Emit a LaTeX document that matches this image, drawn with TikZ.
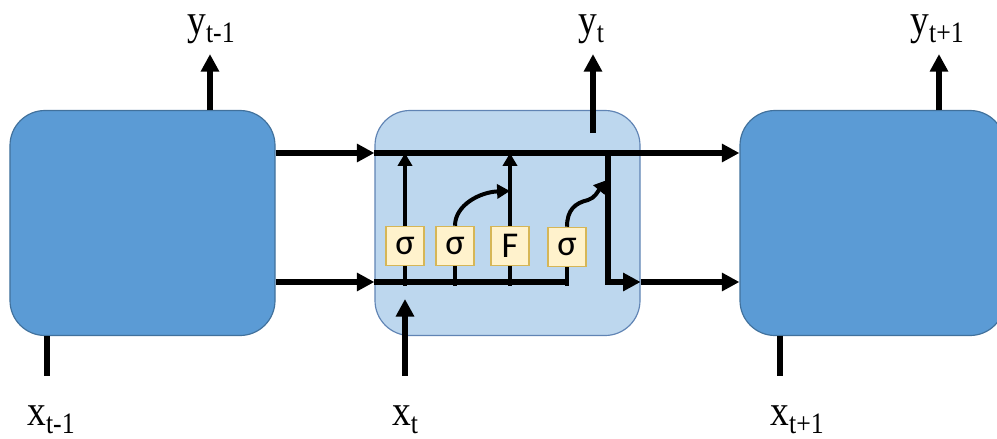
\documentclass[tikz,border=0pt]{standalone}
\usepackage{fontspec}
\setmainfont{Liberation Serif}
\newfontfamily\gatefont{Carlito}
\usetikzlibrary{arrows.meta, positioning}
\definecolor{cellblue}{RGB}{91,155,213}
\definecolor{cellborder}{RGB}{65,113,156}
\definecolor{midblue}{RGB}{189,215,238}
\definecolor{midborder}{RGB}{96,132,180}
\definecolor{gatefill}{RGB}{255,242,204}
\definecolor{gateborder}{RGB}{214,182,86}
\newcommand{\seqlbl}[2]{\scalebox{1}[1.15]{#1\raisebox{-6pt}{\fontsize{22}{24}\selectfont #2}}}

\begin{document}
\begin{tikzpicture}[x=0.3mm,y=-0.3mm,
  cell/.style={draw=cellborder,fill=cellblue,line width=1pt,rounded corners=10.5mm,
    minimum width=79.5mm,minimum height=67.5mm,inner sep=0},
  gate/.style={draw=gateborder,fill=gatefill,line width=1.3pt,minimum width=11.4mm,
    minimum height=11.7mm,inner sep=0,font=\gatefont\fontsize{31}{33}\selectfont},
  lbl/.style={inner sep=0,anchor=base,font=\fontsize{32}{36}\selectfont},
  bigarrow/.style={-{Triangle[length=15pt,width=15pt]},line width=4.3pt},
  smallarrow/.style={-{Triangle[length=11pt,width=12pt]},line width=3.4pt}
]
\useasboundingbox (0,0) rectangle (997,439);

% the three cells
\node[cell] (prev) at (142.5,223) {};
\node[cell,fill=midblue,draw=midborder] (cur) at (507.5,223) {};
\node[cell] (next) at (872.5,223) {};

% levels of the two state lines
\coordinate (up) at (0,153);
\coordinate (lo) at (0,282);
\coordinate (lotick) at (0,286);

% gates
\node[gate] (g1) at (405,246) {σ};
\node[gate] (g2) at (455,246) {σ};
\node[gate] (g3) at (510,246) {F};
\node[gate] (g4) at (567,247) {σ};

% labels
\node[lbl] (yprev) at (211,34) {\seqlbl{y}{t-1}};
\node[lbl] (ycur) at (591,34) {\seqlbl{y}{t}};
\node[lbl] (ynext) at (937,34) {\seqlbl{y}{t+1}};
\node[lbl] (xprev) at (51,425) {\seqlbl{x}{t-1}};
\node[lbl] (xcur) at (405,425) {\seqlbl{x}{t}};
\node[lbl] (xnext) at (797,425) {\seqlbl{x}{t+1}};

\coordinate (yprevbot) at (210,110);
\coordinate (ycurbot) at (593,133);
\coordinate (ynextbot) at (939,110);
\coordinate (xprevtop) at (47,336);
\coordinate (xnexttop) at (780,336);
\coordinate (xin) at (405,299);
\coordinate (mixin) at (510,191);
\coordinate (split) at (608,153);
\coordinate (outin) at (607,180);

% outputs
\draw[bigarrow] (yprevbot) -- ([yshift=-9pt]yprevbot |- yprev.south);
\draw[bigarrow] (ycurbot) -- ([yshift=-9pt]ycurbot |- ycur.south);
\draw[bigarrow] (ynextbot) -- ([yshift=-9pt]ynextbot |- ynext.south);

% inputs
\draw[line width=4.3pt] (xprevtop) -- ([yshift=25pt]xprevtop |- xprev.north);
\draw[line width=4.3pt] (xnexttop) -- ([yshift=25pt]xnexttop |- xnext.north);
\draw[bigarrow] ([yshift=25pt]xin |- xcur.north) -- (xin);

% state lines between the cells
\draw[bigarrow] (prev.east |- up) -- (cur.west |- up);
\draw[bigarrow] (cur.west |- up) -- (next.west |- up);
\draw[bigarrow] (prev.east |- lo) -- (cur.west |- lo);
\draw[line width=4.3pt] (cur.west |- lo) -- ([xshift=1.5pt]g4.south |- lo);
\draw[bigarrow] (split) -- (split |- lo) -- (cur.east |- lo);
\draw[bigarrow] (cur.east |- lo) -- (next.west |- lo);

% inside the cell
\foreach \g in {g1,g2,g3,g4}
  \draw[line width=3.4pt] (\g.south) -- (\g.south |- lotick);
\draw[smallarrow] (g1.north) -- (g1.north |- up);
\draw[smallarrow] (g3.north) -- (g3.north |- up);
\draw[smallarrow] (g2.north) .. controls (455,205) and (480,192) .. (mixin);
\draw[smallarrow] (g4.north) .. controls (567,210) and (575,203) .. (588,200)
  .. controls (595,198) and (598,191) .. (outin);
\end{tikzpicture}
\end{document}
